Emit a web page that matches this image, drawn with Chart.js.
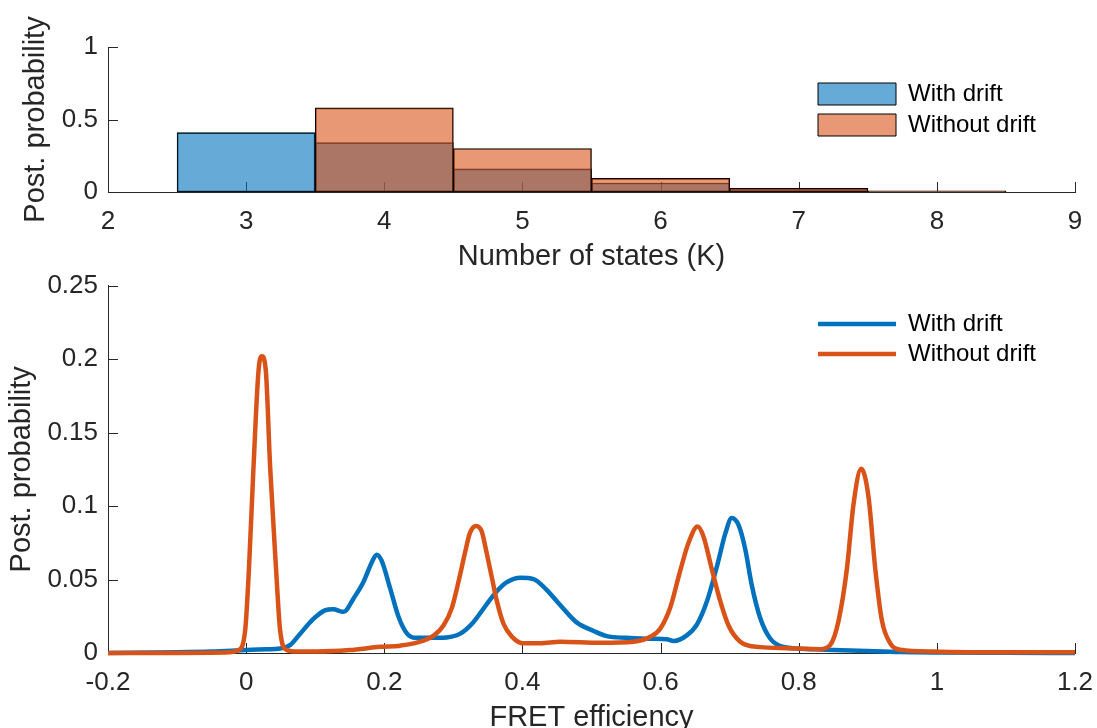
<!DOCTYPE html>
<html>
<head>
<meta charset="utf-8">
<script src="https://cdn.jsdelivr.net/npm/chart.js@4.4.1/dist/chart.umd.min.js"></script>
<style>
  html, body { margin: 0; padding: 0; background: #fff; overflow: hidden; }
  body { width: 1097px; height: 728px; position: relative; }
  .box { position: absolute; left: 0; width: 1097px; }
  #topBox { top: 0; height: 280px; }
  #botBox { top: 260px; height: 480px; }
</style>
</head>
<body>
<div class="box" id="topBox"><canvas id="stateChart"></canvas></div>
<div class="box" id="botBox"><canvas id="fretChart"></canvas></div>
<script>
// Number of states (K) histogram
const stateK = [2, 3, 4, 5, 6, 7, 8];
const probWithDrift = [0, 0.41, 0.34, 0.16, 0.062, 0.015, 0.004];
const probWithoutDrift = [0, 0, 0.58, 0.30, 0.094, 0.025, 0.008];
const stateTicks = [2, 3, 4, 5, 6, 7, 8, 9];
const probTicks = [0, 0.5, 1];

// FRET efficiency posterior
const fretWithX = [-0.2, -0.1, -0.05, 0, 0.03, 0.049, 0.064, 0.078, 0.097, 0.114, 0.126, 0.141, 0.156, 0.170, 0.182, 0.189, 0.196, 0.2085, 0.221, 0.233, 0.245, 0.272, 0.29, 0.31, 0.329, 0.348, 0.363, 0.377, 0.397, 0.416, 0.435, 0.454, 0.478, 0.503, 0.522, 0.55, 0.585, 0.609, 0.619, 0.638, 0.653, 0.667, 0.682, 0.694, 0.703, 0.713, 0.7226, 0.732, 0.744, 0.759, 0.778, 0.826, 0.899, 0.947, 1.0, 1.1, 1.2];
const fretWithY = [0, 0.0005, 0.001, 0.002, 0.0025, 0.003, 0.0055, 0.013, 0.023, 0.029, 0.0298, 0.028, 0.0375, 0.0485, 0.0618, 0.0669, 0.063, 0.044, 0.0242, 0.0132, 0.0103, 0.0103, 0.0106, 0.0132, 0.021, 0.033, 0.042, 0.048, 0.0512, 0.0503, 0.043, 0.033, 0.021, 0.015, 0.0115, 0.0103, 0.0097, 0.0093, 0.0082, 0.012, 0.0197, 0.035, 0.0596, 0.0817, 0.0919, 0.087, 0.0706, 0.0463, 0.0242, 0.0097, 0.0042, 0.0025, 0.0013, 0.0006, 0.0003, 0.0001, 0];
const fretWithoutX = [-0.2, -0.1, -0.03, -0.011, -0.0014, 0.0043, 0.0106, 0.0179, 0.0227, 0.0285, 0.0348, 0.043, 0.0492, 0.059, 0.075, 0.102, 0.15, 0.194, 0.223, 0.247, 0.272, 0.2857, 0.298, 0.3075, 0.317, 0.324, 0.333, 0.341, 0.348, 0.356, 0.363, 0.3726, 0.385, 0.4015, 0.4257, 0.4547, 0.5126, 0.561, 0.585, 0.5995, 0.614, 0.628, 0.6405, 0.6535, 0.662, 0.674, 0.6864, 0.6984, 0.7153, 0.744, 0.783, 0.8312, 0.8457, 0.8577, 0.8698, 0.8794, 0.8905, 0.9011, 0.9108, 0.9205, 0.9325, 0.947, 0.995, 1.1, 1.2];
const fretWithoutY = [0, 0, 0.0003, 0.002, 0.0154, 0.0596, 0.126, 0.192, 0.2019, 0.192, 0.126, 0.0596, 0.0154, 0.002, 0.001, 0.001, 0.002, 0.0042, 0.005, 0.007, 0.012, 0.0187, 0.0309, 0.0486, 0.0685, 0.0817, 0.0865, 0.0828, 0.0685, 0.0508, 0.0353, 0.0199, 0.011, 0.0066, 0.0066, 0.0077, 0.007, 0.0077, 0.011, 0.0165, 0.0309, 0.0552, 0.075, 0.0861, 0.0795, 0.0574, 0.0353, 0.0187, 0.0077, 0.004, 0.0033, 0.0026, 0.0055, 0.022, 0.0574, 0.1015, 0.1254, 0.106, 0.0574, 0.022, 0.0066, 0.0022, 0.001, 0.0005, 0.0005];
const fretTicks = [-0.2, 0, 0.2, 0.4, 0.6, 0.8, 1, 1.2];
const densTicks = [0, 0.05, 0.1, 0.15, 0.2, 0.25];

const BLUE = '#0072BD', ORANGE = '#D95319', AXIS = '#262626';

Chart.defaults.font.family = '"Liberation Sans", Arial, Helvetica, sans-serif';
Chart.defaults.color = AXIS;
Chart.defaults.animation = false;

const toPoints = (xs, ys) => xs.map((x, i) => ({ x: x, y: ys[i] }));
const setTicks = arr => s => { s.ticks = arr.map(v => ({ value: v })); };
const plainNum = v => String(+Number(v).toFixed(4));

// MATLAB-style ticks pointing into the axes
const inwardTicks = {
  id: 'inwardTicks',
  beforeDatasetsDraw(chart) {
    const { ctx, chartArea: a, scales: { x, y } } = chart;
    ctx.save();
    ctx.strokeStyle = AXIS;
    ctx.lineWidth = 1;
    ctx.beginPath();
    x.ticks.forEach(t => {
      const p = Math.round(x.getPixelForValue(t.value)) + 0.5;
      ctx.moveTo(p, a.bottom); ctx.lineTo(p, a.bottom - 10);
    });
    y.ticks.forEach(t => {
      const p = Math.round(y.getPixelForValue(t.value)) + 0.5;
      ctx.moveTo(a.left, p); ctx.lineTo(a.left + 10, p);
    });
    ctx.stroke();
    ctx.restore();
  }
};

// put the chartArea legend at a fixed spot (top-right inside axes)
const legendAt = (x, y) => ({
  id: 'legendAt',
  afterLayout(chart) {
    const lg = chart.legend;
    const pad = lg.options.labels.padding;
    lg.left = x - pad;
    lg.top = y - pad;
    lg.right = chart.width;
    lg.bottom = chart.height;
  }
});

const axisBase = {
  type: 'linear',
  grid: { display: false, drawTicks: false },
  border: { display: true, color: AXIS, width: 1 },
  ticks: { font: { size: 26 }, color: AXIS, callback: plainNum }
};

// top: histogram of K
new Chart(document.getElementById('stateChart'), {
  type: 'bar',
  data: {
    datasets: [
      {
        label: 'With drift',
        data: toPoints(stateK, probWithDrift),
        backgroundColor: 'rgba(0,114,189,0.6)',
        borderColor: '#000', borderWidth: 1, borderSkipped: false,
        order: 1
      },
      {
        label: 'Without drift',
        data: toPoints(stateK, probWithoutDrift),
        backgroundColor: 'rgba(217,83,25,0.6)',
        borderColor: '#000', borderWidth: 1, borderSkipped: false,
        order: 0
      }
    ]
  },
  options: {
    responsive: true,
    maintainAspectRatio: false,
    grouped: false,
    barPercentage: 1,
    categoryPercentage: 1,
    layout: { padding: { top: 47, right: 22, left: 0, bottom: 0 } },
    plugins: {
      tooltip: { enabled: false },
      legend: {
        position: 'chartArea',
        align: 'start',
        labels: {
          boxWidth: 78, boxHeight: 22, padding: 7, color: '#000',
          font: { size: 24 },
          sort: (a, b) => a.datasetIndex - b.datasetIndex
        }
      }
    },
    scales: {
      x: {
        ...axisBase, min: 2, max: 9, offset: false,
        afterBuildTicks: setTicks(stateTicks),
        afterFit: s => { s.height = 88; s.paddingLeft = 0; s.paddingRight = 0; },
        ticks: { ...axisBase.ticks, padding: 14 },
        title: { display: true, text: 'Number of states (K)', color: AXIS, font: { size: 29 }, padding: { top: 0, bottom: 6 } }
      },
      y: {
        ...axisBase, min: 0, max: 1,
        afterBuildTicks: setTicks(probTicks),
        afterFit: s => { s.width = 108; },
        ticks: { ...axisBase.ticks, padding: 10 },
        title: { display: true, text: 'Post. probability', color: AXIS, font: { size: 29 }, padding: { top: 19, bottom: 0 } }
      }
    }
  },
  plugins: [inwardTicks, legendAt(818, 82)]
});

// bottom: posterior over FRET efficiency
new Chart(document.getElementById('fretChart'), {
  type: 'line',
  data: {
    datasets: [
      {
        label: 'With drift',
        data: toPoints(fretWithX, fretWithY),
        borderColor: BLUE, backgroundColor: BLUE,
        borderWidth: 4.5, pointRadius: 0,
        cubicInterpolationMode: 'monotone',
        borderJoinStyle: 'round', clip: false,
        order: 1
      },
      {
        label: 'Without drift',
        data: toPoints(fretWithoutX, fretWithoutY),
        borderColor: ORANGE, backgroundColor: ORANGE,
        borderWidth: 4.5, pointRadius: 0,
        cubicInterpolationMode: 'monotone',
        borderJoinStyle: 'round', clip: false,
        order: 0
      }
    ]
  },
  options: {
    responsive: true,
    maintainAspectRatio: false,
    layout: { padding: { top: 16, right: 22, left: 0, bottom: 0 } },
    plugins: {
      tooltip: { enabled: false },
      legend: {
        position: 'chartArea',
        align: 'start',
        labels: {
          usePointStyle: true, pointStyle: 'line', pointStyleWidth: 78,
          padding: 6, color: '#000', font: { size: 24 },
          sort: (a, b) => a.datasetIndex - b.datasetIndex
        }
      }
    },
    scales: {
      x: {
        ...axisBase, min: -0.2, max: 1.2,
        afterBuildTicks: setTicks(fretTicks),
        afterFit: s => { s.height = 87; s.paddingLeft = 0; s.paddingRight = 0; },
        ticks: { ...axisBase.ticks, padding: 14 },
        title: { display: true, text: 'FRET efficiency', color: AXIS, font: { size: 29 }, padding: { top: 0, bottom: 5 } }
      },
      y: {
        ...axisBase, min: 0, max: 0.25,
        afterBuildTicks: setTicks(densTicks),
        afterFit: s => { s.width = 108; },
        ticks: { ...axisBase.ticks, padding: 10 },
        title: { display: true, text: 'Post. probability', color: AXIS, font: { size: 29 }, padding: { top: 5, bottom: 0 } }
      }
    }
  },
  plugins: [inwardTicks, legendAt(818, 52)]
});
</script>
</body>
</html>
